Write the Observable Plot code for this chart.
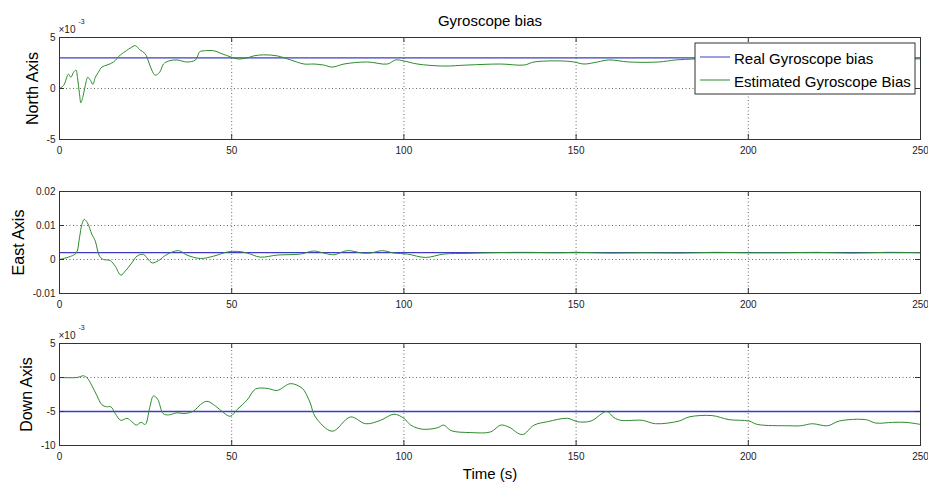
<!DOCTYPE html>
<html>
<head>
<meta charset="utf-8">
<script src="https://cdn.jsdelivr.net/npm/d3@7"></script>
<script src="https://cdn.jsdelivr.net/npm/@observablehq/plot@0.6"></script>
<style>
  html, body { margin: 0; padding: 0; background: white; }
  #chart { position: relative; width: 928px; height: 483px; background: white; overflow: hidden; }
  #chart svg { position: absolute; left: 0; }
</style>
</head>
<body>
<div id="chart"></div>
<script>
// ---- Data (bias values in units of 1e-3) ----
const title = "Gyroscope bias";
const xLabel = "Time (s)";
const axisNames = ["North Axis", "East Axis", "Down Axis"];
const legendLabels = ["Real Gyroscope bias", "Estimated Gyroscope Bias"];
const realBias = [3, 2, -5];
const xTicks = [0, 50, 100, 150, 200, 250];
const northTicks = [-5, 0, 5];
const eastTicks = [-10, 0, 10, 20];
const downTicks = [-10, -5, 0, 5];

// [time s, estimated bias x1e-3]
const northEst = [[0,0],[1.2,0.3],[2.6,1.4],[3.3,1.1],[4.1,1.6],[4.8,1.8],[5.2,1.1],[5.8,-0.5],[6.2,-1.4],[6.8,-0.8],[7.5,0.3],[8.2,1.1],[9.0,0.8],[9.7,0.4],[10.4,1.1],[11.3,1.6],[12.3,2.1],[13.8,2.3],[15.7,2.6],[17.7,3.3],[19.4,3.7],[20.7,4.0],[22.0,4.2],[23.3,3.8],[24.9,3.4],[25.9,2.6],[26.8,1.8],[27.8,1.3],[29.1,1.6],[30.2,2.4],[31.7,2.7],[34.1,2.8],[37.0,2.6],[39.5,2.8],[40.7,3.6],[42.1,3.7],[44.8,3.7],[47.2,3.4],[49.7,3.1],[51.6,2.9],[54.5,3.0],[56.4,3.2],[59.3,3.3],[63.2,3.2],[67.1,2.8],[71.0,2.4],[73.9,2.4],[76.7,2.3],[79.2,2.1],[82.6,2.4],[89.4,2.6],[95.2,2.4],[97.6,2.8],[100,2.7],[103.9,2.4],[111.6,2.2],[118.4,2.3],[128.1,2.4],[134.9,2.3],[137.8,2.6],[145.6,2.7],[149.4,2.6],[152.3,2.4],[156.2,2.6],[159.5,2.8],[165.3,2.6],[174,2.6],[178.9,2.8],[184.7,2.9],[190,3.0],[200,3.0],[215,2.95],[230,3.0],[240,2.95],[250,2.9]];

const eastEst = [[0,0],[1.2,0.3],[2.6,0.7],[4.85,1.9],[5.8,6.4],[6.5,10.3],[7.2,11.8],[8.1,10.8],[9.4,7.4],[10.4,5.4],[11.6,1.0],[12.8,0],[14.7,-0.3],[16.2,-2.0],[17.8,-4.6],[19.1,-3.4],[21.0,-1.0],[22.5,1.0],[24.4,1.5],[25.6,0.2],[26.9,-1.0],[28.8,-0.3],[31.2,1.5],[34.6,2.6],[37.0,1.3],[40.9,0.3],[44.8,1.0],[48.7,2.2],[51.6,2.4],[54.5,1.9],[58.3,0.7],[63.2,1.3],[70,1.6],[73.8,2.5],[76.7,1.9],[79.7,1.4],[83.5,2.6],[87.9,1.9],[90.3,1.9],[93.7,2.6],[97.1,1.9],[101,1.6],[106.3,0.6],[111.6,1.6],[118.4,1.8],[125,2.0],[135,2.1],[145,2.0],[150,2.1],[160,1.9],[170,2.0],[180,1.9],[190,2.1],[200,2.0],[210,2.0],[220,2.1],[230,1.9],[240,2.1],[250,2.0]];

const downEst = [[0,0],[5.1,0],[7.0,0.25],[8.1,-0.1],[9.4,-1.2],[10.9,-2.7],[12.3,-4.0],[13.6,-4.3],[14.9,-4.3],[16.2,-5.3],[17.8,-6.3],[19.6,-6.0],[21.0,-6.5],[22.3,-7.0],[23.7,-6.6],[24.9,-6.9],[26.2,-4.4],[27.3,-2.7],[28.5,-3.2],[30.1,-5.3],[31.7,-5.5],[34.1,-5.2],[36.5,-5.3],[39.0,-4.9],[40.9,-4.0],[42.8,-3.5],[45.3,-4.2],[47.7,-5.2],[49.6,-5.7],[51.6,-4.7],[54.5,-3.3],[56.9,-1.7],[60.3,-1.6],[63.2,-1.9],[67.1,-0.9],[70.5,-1.6],[71.9,-2.7],[72.9,-3.9],[74.3,-5.8],[79.2,-7.9],[84.5,-5.8],[88.9,-6.8],[93.2,-6.3],[97.1,-5.4],[100,-6.0],[102,-7.0],[105.3,-7.6],[109.7,-7.4],[111.6,-7.0],[113.6,-7.8],[119.4,-8.1],[125.2,-8.0],[128.1,-7.0],[130.5,-7.3],[134.4,-8.4],[137.8,-7.0],[141.7,-6.5],[147.5,-6.0],[150.4,-6.5],[154.3,-6.4],[158.9,-5.0],[161,-5.9],[163,-6.3],[169.2,-6.3],[173.1,-6.8],[179.9,-6.4],[182.8,-5.8],[189.5,-5.6],[194.4,-6.2],[200.2,-6.4],[202.6,-6.9],[211.8,-7.1],[215.2,-7.1],[218.6,-6.8],[223,-7.1],[226.4,-6.4],[234.1,-6.2],[237,-6.7],[241.9,-6.6],[245.8,-6.6],[250,-6.9]];

// ---- Styling ----
const FONT = "'Liberation Sans', Arial, Helvetica, sans-serif";
const BLUE = "#3c3cc8";
const GREEN = "#2e8b2e";
const AXIS = "#333";
const W = 928, ML = 59, MR = 8;
const PW = W - ML - MR;

function panel(cfg) {
  const H = cfg.height - cfg.marginTop - cfg.marginBottom;
  const marks = [
    Plot.gridX(xTicks, {stroke: "#444", strokeOpacity: 1, strokeDasharray: "1,2.5", strokeWidth: 0.8}),
    Plot.gridY(cfg.yTicks, {stroke: "#444", strokeOpacity: 1, strokeDasharray: "1,2.5", strokeWidth: 0.8}),
    Plot.ruleY([cfg.real], {stroke: BLUE, strokeWidth: 1.3}),
    Plot.line(cfg.est, {x: d => d[0], y: d => d[1], stroke: GREEN, strokeWidth: 1, curve: "catmull-rom"}),
    // inward ticks (bottom, top, left, right)
    Plot.tickX(xTicks, {insetTop: H - 5, stroke: AXIS}),
    Plot.tickX(xTicks, {insetBottom: H - 5, stroke: AXIS}),
    Plot.tickY(cfg.yTicks, {insetRight: PW - 5, stroke: AXIS}),
    Plot.tickY(cfg.yTicks, {insetLeft: PW - 5, stroke: AXIS}),
    Plot.frame({stroke: AXIS, strokeWidth: 1}),
    Plot.axisX(xTicks, {tickSize: 0, tickPadding: 7, label: null, tickFormat: d => String(d)}),
    Plot.axisY(cfg.yTicks, {tickSize: 0, tickPadding: 4, label: null, tickFormat: cfg.yFormat}),
    Plot.text([cfg.name], {frameAnchor: "left", dx: cfg.labelDx, rotate: -90, fontSize: 16, textAnchor: "middle", lineAnchor: "middle", fill: "#000"}),
    ...(cfg.extras || [])
  ];
  const svg = Plot.plot({
    width: W, height: cfg.height,
    marginTop: cfg.marginTop, marginBottom: cfg.marginBottom, marginLeft: ML, marginRight: MR,
    x: {domain: [0, 250]},
    y: {domain: cfg.domain},
    style: {fontFamily: FONT, fontSize: "10px", color: "#222", background: "white", overflow: "visible"},
    marks
  });
  svg.style.top = cfg.top + "px";
  document.getElementById("chart").appendChild(svg);
  return svg;
}

const exponentMarks = [
  Plot.text(["×10"], {frameAnchor: "top-left", dx: -1, dy: -8, textAnchor: "start", lineAnchor: "middle", fontSize: 10, fill: "#222"}),
  Plot.text(["-3"], {frameAnchor: "top-left", dx: 19, dy: -16, textAnchor: "start", lineAnchor: "middle", fontSize: 7, fill: "#222"})
];

const p1 = panel({
  top: 0, height: 165, marginTop: 37, marginBottom: 26,
  domain: [-5, 5], yTicks: northTicks, yFormat: d => String(d),
  real: realBias[0], est: northEst, name: axisNames[0], labelDx: -27,
  extras: [
    ...exponentMarks,
    Plot.text([title], {frameAnchor: "top", dy: -16, fontSize: 15, lineAnchor: "middle", fill: "#000"})
  ]
});

panel({
  top: 165, height: 150, marginTop: 26, marginBottom: 22,
  domain: [-10, 20], yTicks: eastTicks, yFormat: d => d === 0 ? "0" : String(d / 1000),
  real: realBias[1], est: eastEst, name: axisNames[1], labelDx: -41
});

panel({
  top: 315, height: 168, marginTop: 28, marginBottom: 38,
  domain: [-10, 5], yTicks: downTicks, yFormat: d => String(d),
  real: realBias[2], est: downEst, name: axisNames[2], labelDx: -33,
  extras: [
    ...exponentMarks,
    Plot.text([xLabel], {frameAnchor: "bottom", dy: 29, fontSize: 15, lineAnchor: "middle", fill: "#000"})
  ]
});

// Legend box (top panel, upper right)
const g = d3.select(p1).append("g").attr("font-family", FONT).attr("text-anchor", "start");
const lx = 695, ly = 43, lw = 220, lh = 51;
g.append("rect").attr("x", lx).attr("y", ly).attr("width", lw).attr("height", lh)
  .attr("fill", "white").attr("stroke", AXIS).attr("stroke-width", 1);
const items = [{label: legendLabels[0], color: BLUE, y: 57}, {label: legendLabels[1], color: GREEN, y: 80}];
items.forEach(it => {
  g.append("line").attr("x1", lx + 5).attr("x2", lx + 35).attr("y1", it.y).attr("y2", it.y)
    .attr("stroke", it.color).attr("stroke-width", 1);
  g.append("text").attr("x", lx + 39).attr("y", it.y + 2).attr("dy", "0.32em")
    .attr("text-anchor", "start").attr("font-size", 15).attr("fill", "#000").text(it.label);
});
</script>
</body>
</html>
